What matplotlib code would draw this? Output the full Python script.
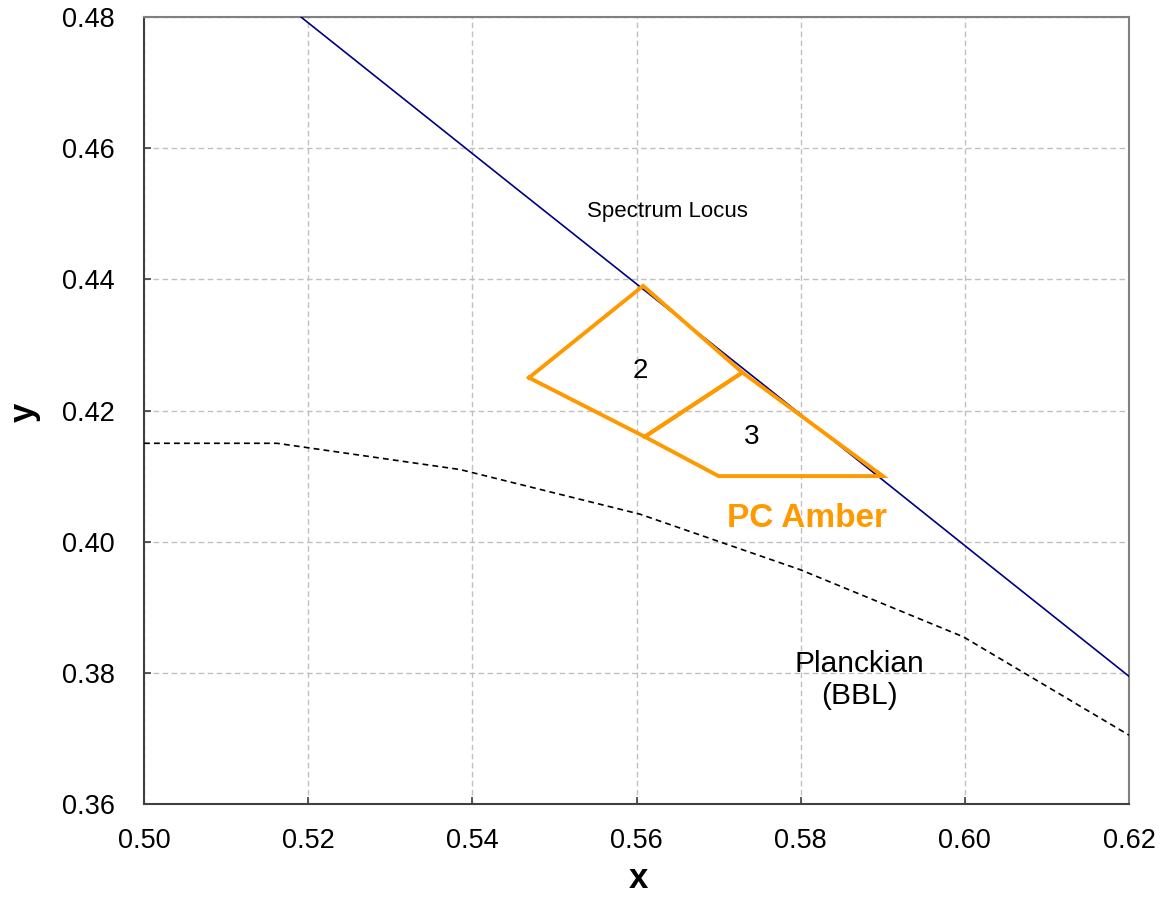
import matplotlib
matplotlib.use("Agg")
import matplotlib.pyplot as plt

plt.rcParams['font.family'] = ['Liberation Sans', 'DejaVu Sans']

# spectrum locus (CIE 1931 x, y)
locus_x = [0.5125, 0.5448, 0.5752, 0.6029, 0.6270]
locus_y = [0.4866, 0.4544, 0.4242, 0.3965, 0.3725]

# Planckian locus (BBL)
bbl_x = [0.500, 0.5162, 0.5385, 0.5604, 0.5800, 0.5998, 0.6200]
bbl_y = [0.415, 0.4150, 0.4110, 0.4042, 0.3957, 0.3855, 0.3705]

# PC Amber bins
bin2_x = [0.5469, 0.5608, 0.5729, 0.5610, 0.5469]
bin2_y = [0.4250, 0.4390, 0.4258, 0.4160, 0.4250]
bin3_x = [0.5610, 0.5729, 0.5900, 0.5700, 0.5610]
bin3_y = [0.4160, 0.4258, 0.4100, 0.4100, 0.4160]

amber = '#FF9900'

fig = plt.figure(figsize=(11.61, 8.97), dpi=100)
ax = fig.add_axes([144/1161, 1 - 804/897, (1129-144)/1161, (804-17)/897])

ax.plot(locus_x, locus_y, color='#000080', lw=1.2, zorder=3)
ax.plot(bbl_x, bbl_y, color='black', lw=1.2, dashes=(3.5, 2.5), zorder=3)
ax.plot(bin2_x, bin2_y, color=amber, lw=2.8, zorder=4, solid_joinstyle='miter')
ax.plot(bin3_x, bin3_y, color=amber, lw=2.8, zorder=4, solid_joinstyle='miter')

ax.set_xlim(0.50, 0.62)
ax.set_ylim(0.36, 0.48)
ax.set_xticks([0.50, 0.52, 0.54, 0.56, 0.58, 0.60, 0.62])
ax.set_yticks([0.36, 0.38, 0.40, 0.42, 0.44, 0.46, 0.48])
ax.xaxis.set_major_formatter(matplotlib.ticker.FormatStrFormatter('%.2f'))
ax.yaxis.set_major_formatter(matplotlib.ticker.FormatStrFormatter('%.2f'))
ax.tick_params(axis='x', direction='in', length=5, width=1.2, color='#404040',
               labelsize=19.5, pad=17)
ax.tick_params(axis='y', direction='in', length=5, width=1.2, color='#404040',
               labelsize=19.5, pad=21)
ax.grid(True, color='#C0C0C0', lw=1, dashes=(4, 2.5))

for s in ['left', 'bottom']:
    ax.spines[s].set_color('#404040')
    ax.spines[s].set_linewidth(1.5)
for s in ['top', 'right']:
    ax.spines[s].set_color('#808080')
    ax.spines[s].set_linewidth(1.5)

ax.text(0.5638, 0.4503, 'Spectrum Locus', fontsize=16, ha='center', va='center')
ax.text(0.5605, 0.4260, '2', fontsize=20, ha='center', va='center')
ax.text(0.5740, 0.4160, '3', fontsize=20, ha='center', va='center')
ax.text(0.5808, 0.4035, 'PC Amber', fontsize=24, fontweight='bold', color=amber,
        ha='center', va='center')
ax.text(0.5872, 0.3789, 'Planckian\n(BBL)', fontsize=21.5, ha='center', va='center',
        linespacing=1.2)

fig.text(638/1161, 1 - 878/897, 'x', fontsize=25, fontweight='bold',
         ha='center', va='center')
fig.text(24/1161, 1 - 412/897, 'y', fontsize=25, fontweight='bold',
         ha='center', va='center', rotation=90)

fig.savefig('out.png', dpi=100)
